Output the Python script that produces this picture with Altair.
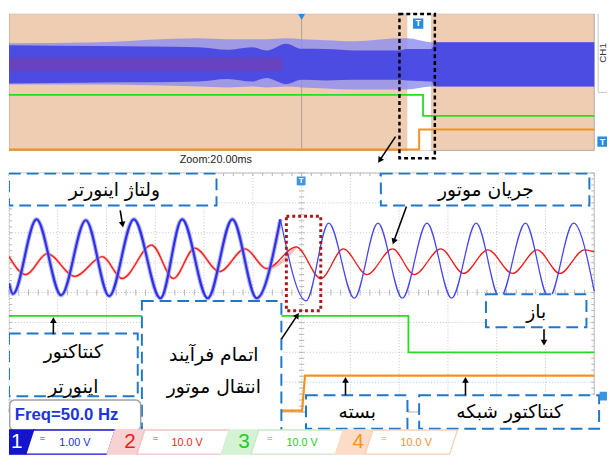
import math
import altair as alt
import pandas as pd

# ---------------- zoomed window: time in ms (20 ms/div) ----------------
blue_t = [0.0, 1.6, 11.3, 21.4, 31.5, 41.1, 51.2, 62.1, 71.0, 81.5, 91.6, 101.6, 111.3,
          121.8, 131.1, 141.6, 151.3, 161.3, 171.4, 181.5, 191.6, 201.3, 211.8, 221.4, 231.5, 240.0]
blue_v = [-0.69, -1.05, 1.45, -1.09, 1.42, -1.12, 1.45, -1.19, 1.45, -1.19, 1.45, -1.19, 1.45,
          -1.28, 1.32, -1.19, 1.32, -1.19, 1.32, -1.19, 1.32, -1.19, 1.32, -1.19, 1.32, -0.95]
TRANSFER_IDX = 12

red_t = [0.0, 6.9, 15.7, 27.0, 38.3, 46.4, 58.5, 67.4, 76.2, 86.3, 96.8, 105.7, 117.8,
         127.9, 137.1, 146.8, 157.3, 166.2, 177.1, 186.4, 196.4, 206.5, 216.6, 225.9, 236.0, 240.0]
red_v = [2.0, -4.0, 3.0, -4.6, 2.0, -5.3, 5.9, -5.3, 4.9, -3.0, 4.6, -2.0, 5.3,
         -5.3, 4.6, -4.0, 4.6, -4.0, 4.6, -3.6, 4.3, -3.6, 4.3, -3.6, 4.3, 3.6]
RED_TRANSFER_IDX = 12

green_t = [0.0, 163.8, 163.8, 240.0]
green_v = [12.2, 12.2, 0.0, 0.0]
orange_t = [0.0, 120.2, 121.4, 240.0]
orange_v = [0.0, 0.0, 11.7, 11.7]

# ---------------- overview record: time in s ----------------
ov_t = [-3.0, -2.07, -1.06, -0.76, -0.51, -0.36, -0.16, 0.0, 0.25, 0.55, 1.0, 1.08, 1.33, 1.37, 3.0]
ov_hi = [1.23, 1.29, 1.51, 1.46, 1.46, 1.46, 1.51, 1.46, 1.40, 1.34, 1.51, 1.51, 1.29, 1.29, 1.29]
ov_lo = [-1.17, -1.17, -1.29, -1.34, -1.29, -1.34, -1.29, -1.34, -1.40, -1.46, -1.46, -1.46, -1.29, -1.29, -1.29]
ov_core_hi = [1.11, 1.06, 1.0, 0.85, 1.0, 0.8, 1.2, 0.9, 0.89, 0.8, 0.8, 0.89, 0.89, 1.29, 1.29]
ov_core_lo = [-1.11, -1.06, -1.0, -0.85, -1.0, -0.8, -1.15, -0.9, -0.94, -0.9, -0.9, -0.94, -1.0, -1.29, -1.29]
ov_red_t = [-3.0, -0.2]
ov_red_amp = 4.0
ov_green_t = [-3.0, 1.245, 1.245, 3.0]
ov_green_v = [12.2, 12.2, 0.0, 0.0]
ov_orange_t = [-3.0, 1.205, 1.205, 3.0]
ov_orange_v = [0.0, 0.0, 11.7, 11.7]
ov_window = [1.084, 1.326]

# channel settings: vertical position (div) and scale (V/div)
CH_POS = {1: 5.0, 2: 5.0, 3: 2.0, 4: 0.05}
CH_SCALE = {1: 1.0, 2: 10.0, 3: 10.0, 4: 10.0}
CH_LABEL = ["1", "2", "3", "4"]
CH_TEXT = ["1.00 V", "10.0 V", "10.0 V", "10.0 V"]


def to_div(ch, vals):
    return [CH_POS[ch] + v / CH_SCALE[ch] for v in vals]


# ---------------- scales ----------------
BX, BY, BW, BH = [0.0, 245.24], [-1.5144, 8.2305], 608, 296
TX, TY, TW, TH = [-3.0, 3.131], [-0.914, 7.943], 608, 155


def sx(dom, f="t"):
    return alt.X(f"{f}:Q", scale=alt.Scale(domain=dom, nice=False, zero=False), axis=None)


def sy(dom, f="y"):
    return alt.Y(f"{f}:Q", scale=alt.Scale(domain=dom, nice=False, zero=False), axis=None)


def series(t, y):
    return pd.DataFrame({"t": t, "y": y, "i": list(range(len(t)))})


def trace(df, dom_x, dom_y, color, width, interp="monotone", opacity=1.0):
    return alt.Chart(df).mark_line(color=color, strokeWidth=width, interpolate=interp,
                                   opacity=opacity, clip=True).encode(
        x=sx(dom_x), y=sy(dom_y), order="i:Q")


def rects(df, dom_x, dom_y, **kw):
    return alt.Chart(df).mark_rect(clip=True, **kw).encode(
        x=sx(dom_x, "t1"), x2="t2:Q", y=sy(dom_y, "y1"), y2="y2:Q")


def rules(df, dom_x, dom_y, **kw):
    return alt.Chart(df).mark_rule(**kw).encode(
        x=sx(dom_x, "t1"), x2="t2:Q", y=sy(dom_y, "y1"), y2="y2:Q")


def texts(df, dom_x, dom_y, **kw):
    return alt.Chart(df).mark_text(**kw).encode(x=sx(dom_x), y=sy(dom_y), text="label:N")


def arrows(lst, dom_x, dom_y, W, H, width=1.6, size=45):
    kx = W / (dom_x[1] - dom_x[0])
    ky = H / (dom_y[1] - dom_y[0])
    rows = []
    for t1, y1, t2, y2 in lst:
        dx, dy = (t2 - t1) * kx, -(y2 - y1) * ky
        L = math.hypot(dx, dy)
        ux, uy = dx / L, dy / L
        hc_t = t2 - 3.5 * ux / kx
        hc_y = y2 + 3.5 * uy / ky
        ang = math.degrees(math.atan2(dx, -dy)) % 360
        rows.append({"t1": t1, "y1": y1, "t2": hc_t, "y2": hc_y, "t": hc_t, "y": hc_y, "ang": ang})
    df = pd.DataFrame(rows)
    line = rules(df, dom_x, dom_y, color="black", strokeWidth=width)
    head = alt.Chart(df).mark_point(shape="triangle-up", filled=True, color="black",
                                    size=size, opacity=1).encode(
        x=sx(dom_x), y=sy(dom_y), angle=alt.Angle("ang:Q", scale=None))
    return [line, head]


# =============== TOP: overview ===============
ov_df = pd.DataFrame({"t": ov_t,
                      "hi": to_div(1, ov_hi), "lo": to_div(1, ov_lo),
                      "chi": to_div(1, ov_core_hi), "clo": to_div(1, ov_core_lo)})
top_layers = []
top_layers.append(rects(pd.DataFrame({"t1": [-3.0], "t2": [3.0], "y1": [0.0], "y2": [7.943]}),
                        TX, TY, fill="#efcdb3", stroke="#b3a89e", strokeWidth=1))
top_layers.append(rects(pd.DataFrame({"t1": [ov_window[0]], "t2": [ov_window[1]], "y1": [0.0], "y2": [7.943]}),
                        TX, TY, fill="white"))
top_layers.append(rules(pd.DataFrame({"t1": [0.0], "t2": [0.0], "y1": [0.0], "y2": [7.943]}),
                        TX, TY, color="#b0a090", strokeWidth=1))
top_layers.append(alt.Chart(ov_df).mark_area(color="#8c8cf0", opacity=0.8, interpolate="monotone",
                                             clip=True).encode(
    x=sx(TX), y=sy(TY, "hi"), y2="lo:Q"))
top_layers.append(alt.Chart(ov_df).mark_area(color="#3e3ee2", opacity=0.85, interpolate="monotone",
                                             clip=True).encode(
    x=sx(TX), y=sy(TY, "chi"), y2="clo:Q"))
red_ov = pd.DataFrame({"t": ov_red_t, "hi": to_div(2, [ov_red_amp] * 2), "lo": to_div(2, [-ov_red_amp] * 2)})
top_layers.append(alt.Chart(red_ov).mark_area(color="#d02040", opacity=0.2, clip=True).encode(
    x=sx(TX), y=sy(TY, "hi"), y2="lo:Q"))
top_layers.append(trace(series(ov_green_t, to_div(3, ov_green_v)), TX, TY, "#22e022", 1.8, "linear"))
top_layers.append(trace(series(ov_orange_t, to_div(4, ov_orange_v)), TX, TY, "#f5921e", 2.0, "linear"))
top_layers.append(alt.Chart(pd.DataFrame({"t1": [1.003], "t2": [1.366], "y1": [-0.457], "y2": [7.93]}))
                  .mark_rect(fill=None, fillOpacity=0, stroke="black", strokeWidth=2.5, strokeDash=[4, 3])
                  .encode(x=sx(TX, "t1"), x2="t2:Q", y=sy(TY, "y1"), y2="y2:Q"))
top_layers.append(texts(pd.DataFrame({"t": [-0.88], "y": [-0.57], "label": ["Zoom:20.00ms"]}), TX, TY,
                        font="Liberation Sans", fontSize=11, color="#222222", align="center", baseline="middle"))
top_layers += arrows([(0.963, 0.8, 0.781, -0.743)], TX, TY, TW, TH, width=1.6, size=45)
mk = pd.DataFrame({"t": [1.195, 3.085], "y": [7.37, 0.514], "label": ["T", "T"]})
top_layers.append(alt.Chart(mk).mark_point(shape="square", filled=True, color="#2a8ce0", size=110,
                                           opacity=1, clip=True).encode(x=sx(TX), y=sy(TY)))
top_layers.append(texts(mk, TX, TY, font="Liberation Sans", fontSize=9, fontWeight="bold",
                        color="white", align="center", baseline="middle"))
top_layers.append(alt.Chart(pd.DataFrame({"t": [0.0], "y": [7.75]})).mark_point(
    shape="triangle-down", filled=True, color="#2a8ce0", size=50, opacity=1).encode(x=sx(TX), y=sy(TY)))
top_layers.append(rects(pd.DataFrame({"t1": [3.04], "t2": [3.2], "y1": [3.37], "y2": [8.2]}),
                        TX, TY, fill="white", stroke="#c4c4c4", strokeWidth=1))
top_layers.append(alt.Chart(pd.DataFrame({"t": [3.09], "y": [5.66], "label": ["CH1"]})).mark_text(
    font="Liberation Sans", fontSize=10, color="#333333", angle=270, align="center", baseline="middle")
    .encode(x=sx(TX), y=sy(TY), text="label:N"))

top = alt.layer(*top_layers).properties(width=TW, height=TH)

# =============== BOTTOM: zoomed window ===============
bl = []
# grid
gv = pd.DataFrame({"t1": [20.0 * k for k in range(13)], "t2": [20.0 * k for k in range(13)],
                   "y1": [0.0] * 13, "y2": [8.0] * 13})
gh = pd.DataFrame({"t1": [0.0] * 9, "t2": [240.0] * 9, "y1": [float(k) for k in range(9)],
                   "y2": [float(k) for k in range(9)]})
bl.append(rules(gv, BX, BY, color="#c2c2c2", strokeWidth=1, strokeDash=[1, 2]))
bl.append(rules(gh, BX, BY, color="#c2c2c2", strokeWidth=1, strokeDash=[1, 2]))
ticks = []
for k in range(41):
    yy = k * 0.2
    ticks.append((118.9, 121.1, yy, yy))
    ticks.append((0.0, 1.2, yy, yy))
    ticks.append((238.8, 240.0, yy, yy))
for k in range(61):
    tt = k * 4.0
    ticks.append((tt, tt, 3.9, 4.1))
    ticks.append((tt, tt, 0.0, 0.1))
    ticks.append((tt, tt, 7.9, 8.0))
tk = pd.DataFrame(ticks, columns=["t1", "t2", "y1", "y2"])
bl.append(rules(tk, BX, BY, color="#b4b4b4", strokeWidth=1))
bl.append(alt.Chart(pd.DataFrame({"t1": [0.0], "t2": [240.0], "y1": [0.0], "y2": [8.0]}))
          .mark_rect(fill=None, fillOpacity=0, stroke="#bdbdbd", strokeWidth=1, clip=True)
          .encode(x=sx(BX, "t1"), x2="t2:Q", y=sy(BY, "y1"), y2="y2:Q"))

# traces
bl.append(trace(series(green_t, to_div(3, green_v)), BX, BY, "#22dd22", 1.8, "linear"))
bl.append(trace(series(orange_t, to_div(4, orange_v)), BX, BY, "#f5921e", 2.2, "linear"))
red_pre = series(red_t[:RED_TRANSFER_IDX + 1], to_div(2, red_v[:RED_TRANSFER_IDX + 1]))
bl.append(trace(red_pre, BX, BY, "#f29090", 2.8, opacity=0.6))
bl.append(trace(series(red_t, to_div(2, red_v)), BX, BY, "#f01c1c", 1.3))
blue_pre = series(blue_t[:TRANSFER_IDX + 1], to_div(1, blue_v[:TRANSFER_IDX + 1]))
blue_post = series(blue_t[TRANSFER_IDX:], to_div(1, blue_v[TRANSFER_IDX:]))
bl.append(trace(blue_pre, BX, BY, "#9a9af4", 4.5, opacity=0.7))
bl.append(trace(blue_pre, BX, BY, "#3030e6", 2.2))
bl.append(trace(blue_post, BX, BY, "#4646f0", 1.3))

# annotation boxes
boxes = pd.DataFrame({
    "t1": [0.0, 152.5, 0.0, 54.5, 195.6, 121.8, 168.2],
    "t2": [85.1, 238.0, 52.8, 111.7, 236.8, 163.4, 242.0],
    "y1": [6.91, 6.91, 0.53, -0.66, 2.84, -0.56, -0.56],
    "y2": [7.98, 7.98, 2.63, 3.72, 3.94, 0.56, 0.56]})
bl.append(rects(boxes, BX, BY, fill="white", stroke="#1f77c9", strokeWidth=2, strokeDash=[12, 6]))
bl.append(alt.Chart(pd.DataFrame({"t1": [0.3], "t2": [54.0], "y1": [-0.62], "y2": [0.40]}))
          .mark_rect(fill="white", stroke="#a0a0a0", strokeWidth=1.5, cornerRadius=5, clip=True)
          .encode(x=sx(BX, "t1"), x2="t2:Q", y=sy(BY, "y1"), y2="y2:Q"))

labels = pd.DataFrame({
    "t": [43.2, 195.6, 26.4, 26.4, 84.0, 84.0, 216.2, 142.8, 205.3],
    "y": [7.42, 7.42, 2.0, 0.84, 1.91, 0.82, 3.36, 0.0, 0.0],
    "label": ["ولتاژ اینورتر", "جریان موتور", "کنتاکتور", "اینورتر", "اتمام فرآیند",
              "انتقال موتور", "باز", "بسته", "کنتاکتور شبکه"]})
bl.append(texts(labels, BX, BY, font="DejaVu Sans", fontSize=19, color="black",
                align="center", baseline="middle"))
bl.append(texts(pd.DataFrame({"t": [2.4], "y": [-0.1], "label": ["Freq=50.0 Hz"]}), BX, BY,
                font="Liberation Sans", fontSize=17, fontWeight="bold", color="#1a35d8",
                align="left", baseline="middle"))

# red dotted box
bl.append(alt.Chart(pd.DataFrame({"t1": [113.75], "t2": [127.86], "y1": [3.39], "y2": [6.55]}))
          .mark_rect(fill=None, fillOpacity=0, stroke="#a81818", strokeWidth=3, strokeDash=[3, 3])
          .encode(x=sx(BX, "t1"), x2="t2:Q", y=sy(BY, "y1"), y2="y2:Q"))

# arrows
bl += arrows([(45.6, 6.75, 46.8, 6.16), (163.0, 6.88, 157.3, 5.60), (18.2, 2.60, 18.2, 3.19),
              (111.7, 2.44, 119.0, 3.33), (219.4, 2.77, 219.4, 2.21), (138.0, 0.56, 138.0, 1.19),
              (187.2, 0.56, 187.2, 1.19)], BX, BY, BW, BH)

# markers
bmk = pd.DataFrame({"t": [119.8, 244.0], "y": [7.74, 0.53], "label": ["T", "T"]})
bl.append(alt.Chart(bmk).mark_point(shape="square", filled=True, color="#3a95e2", size=80,
                                    opacity=1, clip=True).encode(x=sx(BX), y=sy(BY)))
bl.append(texts(bmk.iloc[:1], BX, BY, font="Liberation Sans", fontSize=8, fontWeight="bold",
                color="white", align="center", baseline="middle"))

# channel bar
YT, YB = -0.60, -1.41
shapes = [
    ("b1", "#1414cc", "#1414cc", 0.0, 10.08, 0.0, 6.86),
    ("w1", "white", "#1414cc", 10.08, 43.56, 6.86, 40.34),
    ("b2", "#f8d2d2", "#f8d2d2", 43.56, 55.66, 40.34, 52.44),
    ("w2", "white", "#f2c4c4", 55.66, 90.35, 52.44, 87.12),
    ("b3", "#d4f2d4", "#d4f2d4", 90.35, 102.45, 87.12, 99.23),
    ("w3", "white", "#c6eac6", 102.45, 137.14, 99.23, 133.91),
    ("b4", "#fbdcc6", "#fbdcc6", 137.14, 149.24, 133.91, 146.02),
    ("w4", "white", "#f5d2b6", 149.24, 183.93, 146.02, 180.7)]
rows = []
for sid, f, s, tl, tr, bl_, br in shapes:
    rows.append({"id": sid, "fill": f, "stroke": s, "y": YT, "xl": tl, "xr": tr})
    rows.append({"id": sid, "fill": f, "stroke": s, "y": YB, "xl": bl_, "xr": br})
bl.append(alt.Chart(pd.DataFrame(rows)).mark_area(orient="horizontal", strokeWidth=1.4, clip=True).encode(
    y=sy(BY), x=sx(BX, "xl"), x2="xr:Q", detail="id:N",
    fill=alt.Fill("fill:N", scale=None), stroke=alt.Stroke("stroke:N", scale=None)))
ch_colors = ["white", "#f01c1c", "#22cc22", "#f5921e"]
val_colors = ["#1a30d0", "#f01c1c", "#22cc22", "#f5921e"]
digits = pd.DataFrame({"t": [3.2, 49.6, 96.4, 143.2], "y": [-1.0] * 4, "label": CH_LABEL, "c": ch_colors})
eqs = pd.DataFrame({"t": [13.7, 60.1, 106.9, 153.7], "y": [-0.86] * 4, "label": ["="] * 4, "c": val_colors})
vals = pd.DataFrame({"t": [27.0, 73.0, 120.2, 167.0], "y": [-1.04] * 4, "label": CH_TEXT, "c": val_colors})
for d, fs in ((digits, 21), (eqs, 10), (vals, 11)):
    bl.append(alt.Chart(d).mark_text(font="Liberation Sans", fontSize=fs, align="center",
                                     baseline="middle").encode(
        x=sx(BX), y=sy(BY), text="label:N", color=alt.Color("c:N", scale=None)))

bottom = alt.layer(*bl).properties(width=BW, height=BH)

chart = alt.vconcat(top, bottom, spacing=0, padding=0).configure_view(stroke=None)
chart.save("out.html", embed_options={"renderer": "svg", "actions": False})
